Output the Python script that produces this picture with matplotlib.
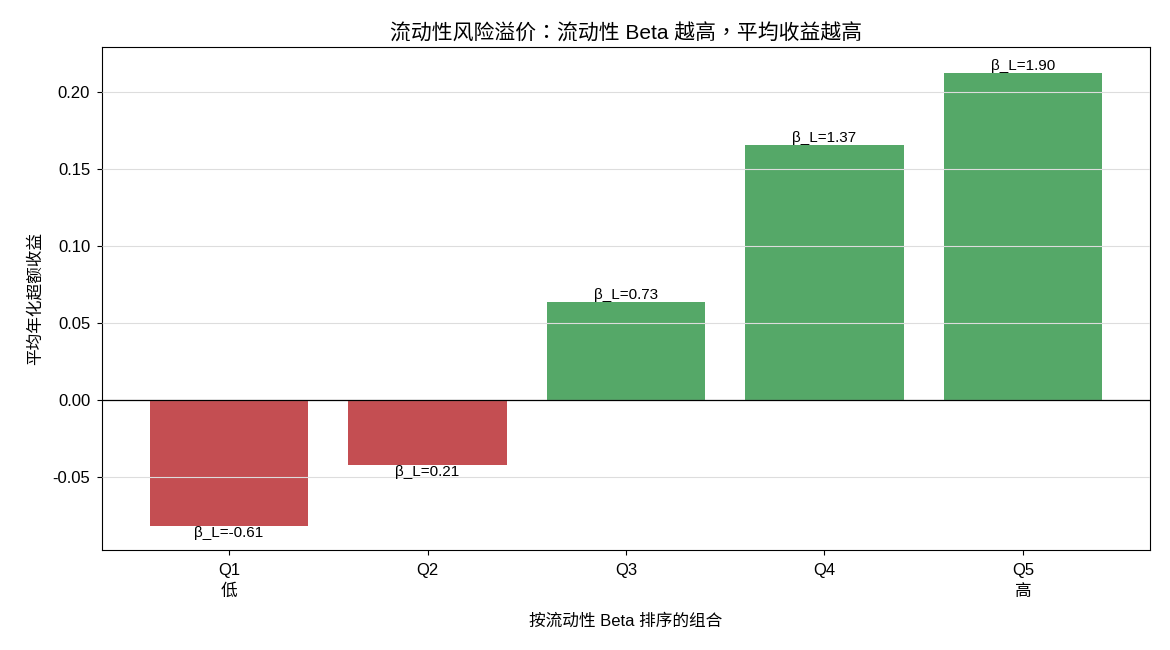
import matplotlib
matplotlib.use("Agg")
import matplotlib.pyplot as plt

plt.rcParams['font.family'] = ['Liberation Sans', 'Noto Sans CJK SC', 'DejaVu Sans']
plt.rcParams['axes.unicode_minus'] = False

categories = ["Q1\n低", "Q2", "Q3", "Q4", "Q5\n高"]
returns = [-0.0818, -0.0422, 0.0636, 0.1656, 0.2123]
betas = [-0.61, 0.21, 0.73, 1.37, 1.90]

fig, ax = plt.subplots(figsize=(11.7, 6.5), dpi=100)
fig.subplots_adjust(left=102/1170, right=1150/1170, top=1-47/650, bottom=1-550/650)

colors = ['#55a868' if r > 0 else '#c44e52' for r in returns]
x = list(range(len(categories)))
bars = ax.bar(x, returns, width=0.8, color=colors, zorder=1)
ax.axhline(0, color='black', linewidth=0.9, zorder=3)
ax.yaxis.grid(True, color='#dddddd', linewidth=0.8, zorder=2.5)
ax.set_axisbelow(False)

for xi, r, bl in zip(x, returns, betas):
    ax.text(xi, r, f"β_L={bl:.2f}", ha='center', va='bottom' if r >= 0 else 'top', fontsize=11)

ax.set_xticks(x)
ax.set_xticklabels(categories, fontsize=12, linespacing=1.45)
ax.tick_params(axis='x', pad=6)
ax.tick_params(axis='y', labelsize=12, pad=5)
ax.set_ylim(-0.0974, 0.2292)
ax.set_yticks([-0.05, 0.0, 0.05, 0.10, 0.15, 0.20])
ax.set_yticklabels(['-0.05', '0.00', '0.05', '0.10', '0.15', '0.20'])
ax.set_xlabel("按流动性 Beta 排序的组合", fontsize=12, labelpad=10)
ax.set_ylabel("平均年化超额收益", fontsize=12, labelpad=7)
ax.set_title("流动性风险溢价：流动性 Beta 越高，平均收益越高", fontsize=15, pad=5,
             family=['Liberation Sans', 'Noto Sans CJK TC', 'DejaVu Sans'])

fig.savefig("out.png", dpi=100)
